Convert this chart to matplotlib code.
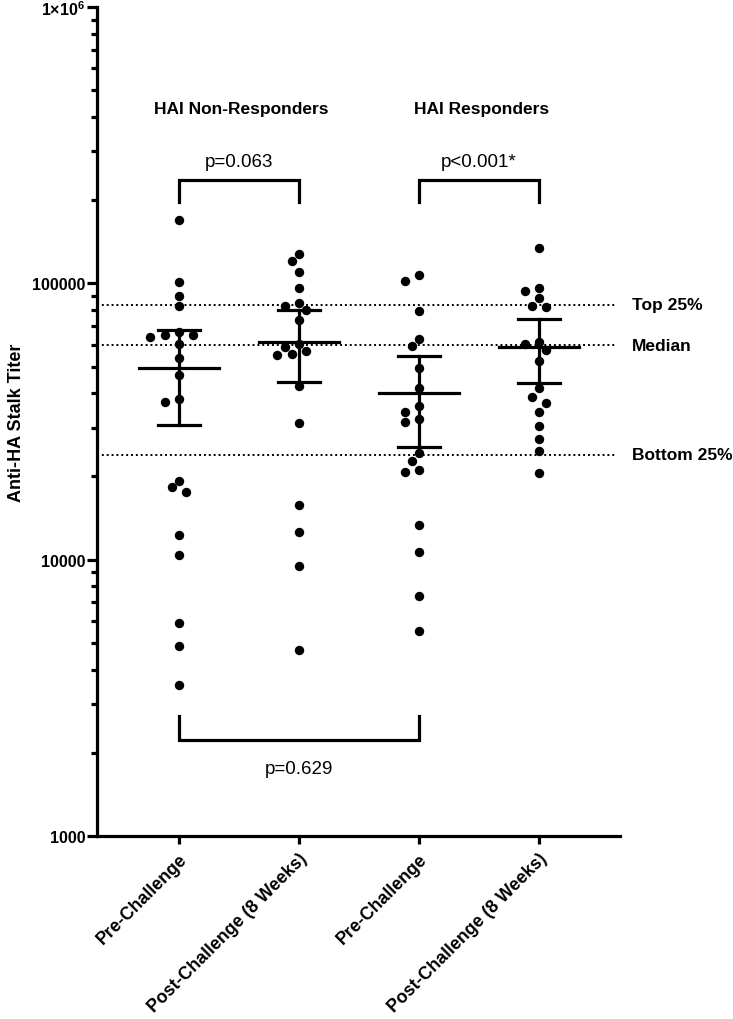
import numpy as np
import matplotlib
matplotlib.use('Agg')
import matplotlib.pyplot as plt
from matplotlib.ticker import FixedLocator, NullFormatter, FixedFormatter
from matplotlib import font_manager as fm

plt.rcParams['font.family'] = ['Liberation Sans', 'DejaVu Sans']
plt.rcParams['mathtext.fontset'] = 'custom'
plt.rcParams['mathtext.bf'] = 'Liberation Sans:bold'
plt.rcParams['mathtext.rm'] = 'Liberation Sans:bold'
plt.rcParams['mathtext.default'] = 'bf'

# ---------------- data ----------------
categories = ["Pre-Challenge", "Post-Challenge (8 Weeks)",
              "Pre-Challenge", "Post-Challenge (8 Weeks)"]
group_titles = ["HAI Non-Responders", "HAI Responders"]

nonresp_pre = [169900, 100900, 90000, 82800, 66500, 65000, 63900, 65200, 60300,
               53800, 46600, 37100, 38200, 18300, 17600, 19300, 12300, 10400,
               5890, 4880, 3530]
nonresp_post = [127700, 120200, 109600, 96200, 84900, 82600, 80100, 73700,
                60200, 57000, 55050, 55500, 58700, 42600, 31150, 15770, 12600,
                9460, 4710]
resp_pre = [102200, 107200, 79200, 59200, 62900, 49270, 41720, 36070, 34310,
            31410, 32290, 24320, 22760, 20710, 21110, 13350, 10660, 7370, 5530]
resp_post = [133900, 93600, 95950, 88300, 83000, 82000, 60200, 57230, 61500,
             52240, 41720, 38790, 36900, 34140, 30380, 27340, 24740, 20540]

means = [49250, 61130, 40110, 58980]
ci_low = [30700, 44070, 25630, 43590]
ci_high = [67800, 79900, 54590, 74300]

reference_levels = [83500, 59600, 24000]
reference_labels = ["Top 25%", "Median", "Bottom 25%"]

comparisons = [(0, 1, "p=0.063"), (2, 3, "p<0.001*"), (0, 2, "p=0.629")]

series = [nonresp_pre, nonresp_post, resp_pre, resp_post]

# ---------------- figure ----------------
W, H = 733, 1020
fig = plt.figure(figsize=(W / 100, H / 100), dpi=100)
ax = fig.add_axes([97 / W, 1 - 837 / H, (620 - 97) / W, (837 - 8) / H])
ax.set_yscale('log')
ax.set_ylim(1000, 1e6)
ax.set_xlim(-0.683, 3.675)

LW = 2.3
for s in ['top', 'right']:
    ax.spines[s].set_visible(False)
for s in ['left', 'bottom']:
    ax.spines[s].set_linewidth(LW)

ax.yaxis.set_major_locator(FixedLocator([1e3, 1e4, 1e5, 1e6]))
ax.yaxis.set_major_formatter(FixedFormatter(["1000", "10000", "100000", "1×10$^{6}$"]))
minor = [m * 10 ** e for e in range(3, 6) for m in range(2, 10)]
ax.yaxis.set_minor_locator(FixedLocator(minor))
ax.yaxis.set_minor_formatter(NullFormatter())
ax.tick_params(axis='y', which='major', length=7, width=LW, pad=1.5,
               labelsize=11.5)
ax.tick_params(axis='y', which='minor', length=4.3, width=LW)
for lab in ax.get_yticklabels():
    lab.set_fontweight('bold')

xpos = np.arange(len(categories))
ax.set_xticks(xpos)
ax.set_xticklabels(categories, rotation=45, ha='right', va='top',
                   rotation_mode='anchor', fontweight='bold', fontsize=12.8)
ax.tick_params(axis='x', length=6, width=LW, pad=4)

# y label
narrow = 'Liberation Sans Narrow'
names = {f.name for f in fm.fontManager.ttflist}
ylab_family = [narrow, 'Liberation Sans'] if narrow in names else ['Liberation Sans']
ylab_size = 15 if narrow in names else 13
ax.set_ylabel("Anti-HA Stalk Titer", fontweight='bold', fontsize=ylab_size,
              family=ylab_family, va='center')
ax.yaxis.set_label_coords((17 - 97) / (620 - 97), 0.5)

# reference lines
for lvl, lab in zip(reference_levels, reference_labels):
    ax.plot([-0.683, 3.65], [lvl, lvl], color='black', lw=1.4,
            linestyle=(0, (1, 1.5)), zorder=1, clip_on=False)
    ax.text(3.775, lvl, lab, ha='left', va='center', fontweight='bold',
            fontsize=12.5, clip_on=False)

# swarm layout
fig.canvas.draw()
def swarm_offsets(xc, vals, diam_px=9.6, step_px=7.2):
    vals = np.asarray(vals, float)
    pts = ax.transData.transform(np.column_stack([np.full(len(vals), xc), vals]))
    ys = pts[:, 1]
    order = np.argsort(-vals)
    placed = []
    offs = np.zeros(len(vals))
    cand = [0]
    for k in range(1, 12):
        cand += [-k, k]
    for i in order:
        for k in cand:
            dx = k * step_px
            if all((dx - px) ** 2 + (ys[i] - py) ** 2 >= diam_px ** 2 for px, py in placed):
                break
        placed.append((dx, ys[i]))
        offs[i] = dx
    ppu = ax.transData.transform((1, 1))[0] - ax.transData.transform((0, 1))[0]
    return offs / ppu

for i, vals in enumerate(series):
    offs = swarm_offsets(xpos[i], vals)
    ax.scatter(xpos[i] + offs, vals, s=46, color='black', zorder=3,
               linewidths=0)

# mean and error bars
for i in range(len(series)):
    ax.plot([xpos[i], xpos[i]], [ci_low[i], ci_high[i]], color='black', lw=LW, zorder=4)
    ax.plot([xpos[i] - 0.175, xpos[i] + 0.175], [ci_low[i]] * 2, color='black', lw=LW, zorder=4)
    ax.plot([xpos[i] - 0.175, xpos[i] + 0.175], [ci_high[i]] * 2, color='black', lw=LW, zorder=4)
    ax.plot([xpos[i] - 0.333, xpos[i] + 0.333], [means[i]] * 2, color='black', lw=LW, zorder=4)

# group titles
ax.text((xpos[0] + xpos[1]) / 2 + 0.02, 431000, group_titles[0], ha='center', va='center',
        fontweight='bold', fontsize=12.5)
ax.text((xpos[2] + xpos[3]) / 2 + 0.02, 431000, group_titles[1], ha='center', va='center',
        fontweight='bold', fontsize=12.5)

# comparison brackets
for a, b, txt in comparisons[:2]:
    ax.plot([xpos[a], xpos[a], xpos[b], xpos[b]], [196600, 236600, 236600, 196600],
            color='black', lw=LW, solid_joinstyle='miter')
    ax.text((xpos[a] + xpos[b]) / 2, 277000, txt, ha='center', va='center', fontsize=13.5)
a, b, txt = comparisons[2]
ax.plot([xpos[a], xpos[a], xpos[b], xpos[b]], [2718, 2225, 2225, 2718],
        color='black', lw=LW, solid_joinstyle='miter')
ax.text((xpos[a] + xpos[b]) / 2, 1762, txt, ha='center', va='center', fontsize=13.5)

fig.savefig('out.png', dpi=100)
